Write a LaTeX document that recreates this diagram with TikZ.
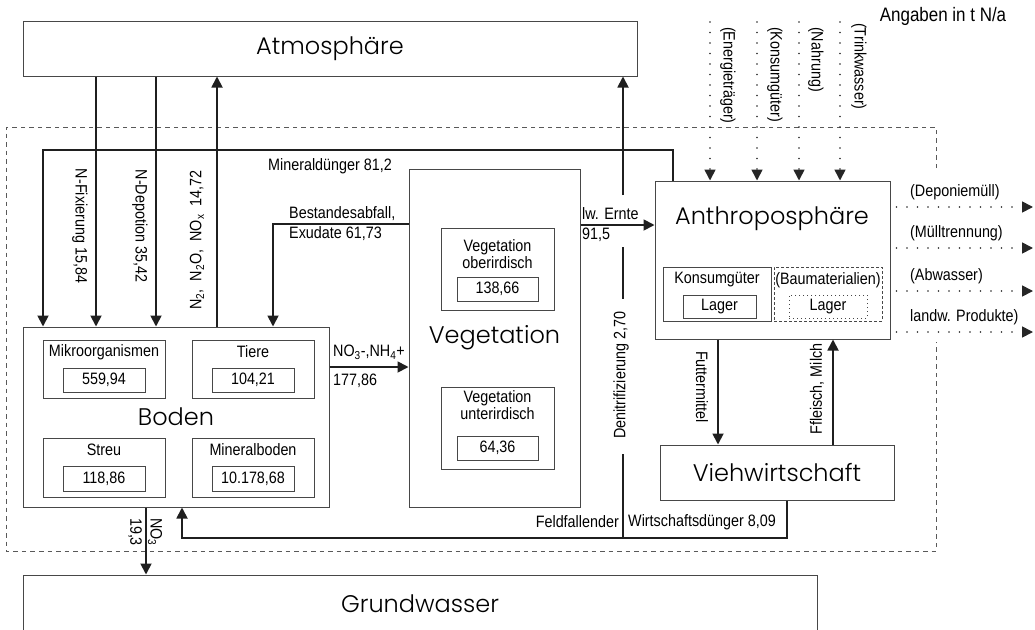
\documentclass[tikz,border=0pt]{standalone}
\usepackage{fontspec}
\setmainfont{Liberation Sans}
\newfontfamily\narrowfont[FakeStretch=0.87]{Liberation Sans}
\newfontfamily\geofont{Poppins Light}
\usetikzlibrary{arrows.meta,calc}
\begin{document}
\begin{tikzpicture}[x=1pt,y=-1pt,
 box/.style={draw=black!72, line width=1pt, inner sep=0pt},
 title/.style={font=\geofont\fontsize{24}{26}\selectfont, inner sep=0pt},
 lab/.style={font=\narrowfont\fontsize{16.5}{18}\selectfont, inner sep=0pt},
 flow/.style={draw=black!88, line width=1.8pt},
 arr/.style={flow, -{Triangle[length=11pt,width=11pt]}},
 dotline/.style={draw=black!85, line width=1.7pt, line cap=round, dash pattern=on 0pt off 10.5pt},
 dotarr/.style={dotline, -{Triangle[length=11pt,width=11pt]}},
 bound/.style={draw=black!65, line width=0.9pt, dash pattern=on 4.5pt off 4pt},
 dashbox/.style={draw=black!72, line width=0.9pt, dash pattern=on 3pt off 2pt, inner sep=0pt},
 dotbox/.style={draw=black!72, line width=0.9pt, dash pattern=on 1pt off 3pt, inner sep=0pt},
]
\useasboundingbox (0,0) rectangle (1035,629);

% boundary
\coordinate (b1) at (6,127); \coordinate (b2) at (936,127); \coordinate (b3) at (936,168);
\coordinate (b4) at (936,342); \coordinate (b5) at (936,551); \coordinate (b6) at (6,551);
\draw[bound] (b3) -- (b2) -- (b1) -- (b6) -- (b5) -- (b4);

% main boxes
\node[box, title, minimum width=614pt, minimum height=55pt] (atm) at (330,48.5) {Atmosphäre};
\node[box, minimum width=794pt, minimum height=70pt] (gw) at (420,610) {};
\node[title] (gwt) at (420,604) {Grundwasser};
\node[box, title, minimum width=306pt, minimum height=180pt] (boden) at (176,417) {Boden};
\node[box, title, minimum width=171pt, minimum height=338pt] (veg) at (494.5,338) {Vegetation};
\node[box, minimum width=235pt, minimum height=158pt] (anth) at (772.5,260) {};
\node[title] (antht) at (772,219) {Anthroposphäre};
\node[box, title, minimum width=234pt, minimum height=55pt] (vieh) at (777,472.5) {Viehwirtschaft};

% Boden sub boxes
\node[box, minimum width=122pt, minimum height=58pt] (mikro) at (104,369) {};
\node[lab] (mikrot) at (104,352) {Mikroorganismen};
\node[box, lab, minimum width=82pt, minimum height=24pt] (mikrov) at (104,380) {559,94};
\node[box, minimum width=122pt, minimum height=58pt] (tiere) at (253,369) {};
\node[lab] (tieret) at (253,352) {Tiere};
\node[box, lab, minimum width=82pt, minimum height=24pt] (tierev) at (253,380) {104,21};
\node[box, minimum width=122pt, minimum height=59pt] (streu) at (104,467.5) {};
\node[lab] (streut) at (104,450) {Streu};
\node[box, lab, minimum width=82pt, minimum height=25pt] (streuv) at (104,478.5) {118,86};
\node[box, minimum width=122pt, minimum height=59pt] (mine) at (253,467.5) {};
\node[lab] (minet) at (253,450) {Mineralboden};
\node[box, lab, minimum width=82pt, minimum height=25pt] (minev) at (253,478.5) {10.178,68};

% Vegetation sub boxes
\node[box, minimum width=113pt, minimum height=82pt] (vego) at (497.5,269) {};
\node[lab, align=center, font=\narrowfont\fontsize{16.5}{14.5}\selectfont] (vegot) at (497.5,254) {Vegetation\\oberirdisch};
\node[box, lab, minimum width=81pt, minimum height=24pt] (vegov) at (497.5,289) {138,66};
\node[box, minimum width=113pt, minimum height=82pt] (vegu) at (497.5,428) {};
\node[lab, align=center, font=\narrowfont\fontsize{16.5}{14.5}\selectfont] (vegut) at (497.5,405) {Vegetation\\unterirdisch};
\node[box, lab, minimum width=81pt, minimum height=24pt] (veguv) at (497.5,448) {64,36};

% Anthroposphaere sub boxes
\node[box, minimum width=108pt, minimum height=54pt] (kons) at (717,294) {};
\node[lab] (konst) at (717,280) {Konsumgüter};
\node[box, lab, minimum width=73pt, minimum height=23pt] (lag1) at (719.5,306.5) {Lager};
\node[dashbox, minimum width=108pt, minimum height=54pt] (baum) at (828,294) {};
\node[lab] (baumt) at (828,280) {(Baumaterialien)};
\node[dotbox, lab, minimum width=78pt, minimum height=23pt] (lag2) at (828,306.5) {Lager};

% helper coordinates
\foreach \n/\x in {mA/43, nf/96, nd/156, no/217, be/273, gr/146, fe/182, de/623, mi/673, fu/718, fl/833, wd/787, d1/710, d2/757, d3/799, d4/840}
  {\coordinate (\n) at (\x,0);}
\coordinate (yM) at (0,150);
\coordinate (yB) at (0,224);
\coordinate (yN) at (0,367);
\coordinate (yE) at (0,225);
\coordinate (yF) at (0,538);
\coordinate (top) at (0,22);

% connectors
\draw[arr] (anth.north -| mi) -- (mi |- yM) -| (boden.north -| mA);
\draw[arr] (atm.south -| nf) -- (boden.north -| nf);
\draw[arr] (atm.south -| nd) -- (boden.north -| nd);
\draw[arr] (boden.north -| no) -- (atm.south -| no);
\draw[arr] (veg.west |- yB) -| (boden.north -| be);
\draw[arr] (boden.east |- yN) -- (veg.west |- yN);
\draw[arr] (boden.south -| gr) -- (gw.north -| gr);
\draw[arr] (veg.east |- yE) -- (anth.west |- yE);
\coordinate (dA) at (623,195); \coordinate (dB) at (623,247);
\coordinate (dC) at (623,299); \coordinate (dD) at (623,454);
\draw[arr] (dA) -- (atm.south -| de);
\draw[flow] (dB) -- (dC);
\draw[flow] (dD) -- (de |- yF);
\draw[arr] (vieh.south -| wd) |- (fe |- yF) -- (boden.south -| fe);
\draw[arr] (anth.south -| fu) -- (vieh.north -| fu);
\draw[arr] (vieh.north -| fl) -- (anth.south -| fl);
\foreach \c in {d1,d2,d3,d4} {\draw[dotarr] (\c |- top) -- (anth.north -| \c);}
\foreach \y [count=\i] in {207,248,291,332} {
  \coordinate (r\i) at (1033,\y);
  \draw[dotarr, shorten <=6pt] (anth.east |- r\i) -- (r\i);
}

% labels
\node[lab, rotate=-90] (l1) at (80,226) {N-Fixierung 15,84};
\node[lab, rotate=-90] (l2) at (140,226) {N-Depotion 35,42};
\node[lab, rotate=90] (l3) at (197,240) {N\textsubscript{2}, \ N\textsubscript{2}O, \ NO\textsubscript{x} \ 14,72};
\node[lab] (l4) at (330,166) {Mineraldünger 81,2};
\node[lab, anchor=west, align=left, font=\narrowfont\fontsize{16.5}{20}\selectfont] (l5) at (289,224) {Bestandesabfall,\\Exudate\ 61,73};
\node[lab] (l6) at (369,352) {NO\textsubscript{3}-,NH\textsubscript{4}+};
\node[lab, anchor=west] (l7) at (333,381) {177,86};
\node[lab, rotate=-90] (l8) at (155,532) {NO\textsubscript{3}};
\node[lab, rotate=-90] (l9) at (135,532) {19,3};
\node[lab, anchor=west] (l10) at (582,214) {lw. Ernte};
\node[lab, anchor=west] (l11) at (582,235) {91,5};
\node[lab, rotate=90] (l12) at (621,375) {Denitrifizierung 2,70};
\node[lab, anchor=east] (l13) at (619,522) {Feldfallender};
\node[lab, anchor=west] (l14) at (628,522) {Wirtschaftsdünger 8,09};
\node[lab, rotate=-90] (l15) at (702,387) {Futtermittel};
\node[lab, rotate=90] (l16) at (817,389) {Ffleisch, Milch};
\node[lab, rotate=-90, anchor=west] (t1) at (728,27) {(Energieträger)};
\node[lab, rotate=-90, anchor=west] (t2) at (775,27) {(Konsumgüter)};
\node[lab, rotate=-90, anchor=west] (t3) at (816,27) {(Nahrung)};
\node[lab, rotate=-90, anchor=west] (t4) at (859,23) {(Trinkwasser)};
\node[lab, anchor=west] (o1) at (910,192) {(Deponiemüll)};
\node[lab, anchor=west] (o2) at (910,233) {(Mülltrennung)};
\node[lab, anchor=west] (o3) at (910,276) {(Abwasser)};
\node[lab, anchor=west] (o4) at (910,317) {landw. Produkte)};
\node[lab, font=\narrowfont\fontsize{19.5}{20}\selectfont] (ang) at (943,16) {Angaben in t N/a};
\end{tikzpicture}
\end{document}
